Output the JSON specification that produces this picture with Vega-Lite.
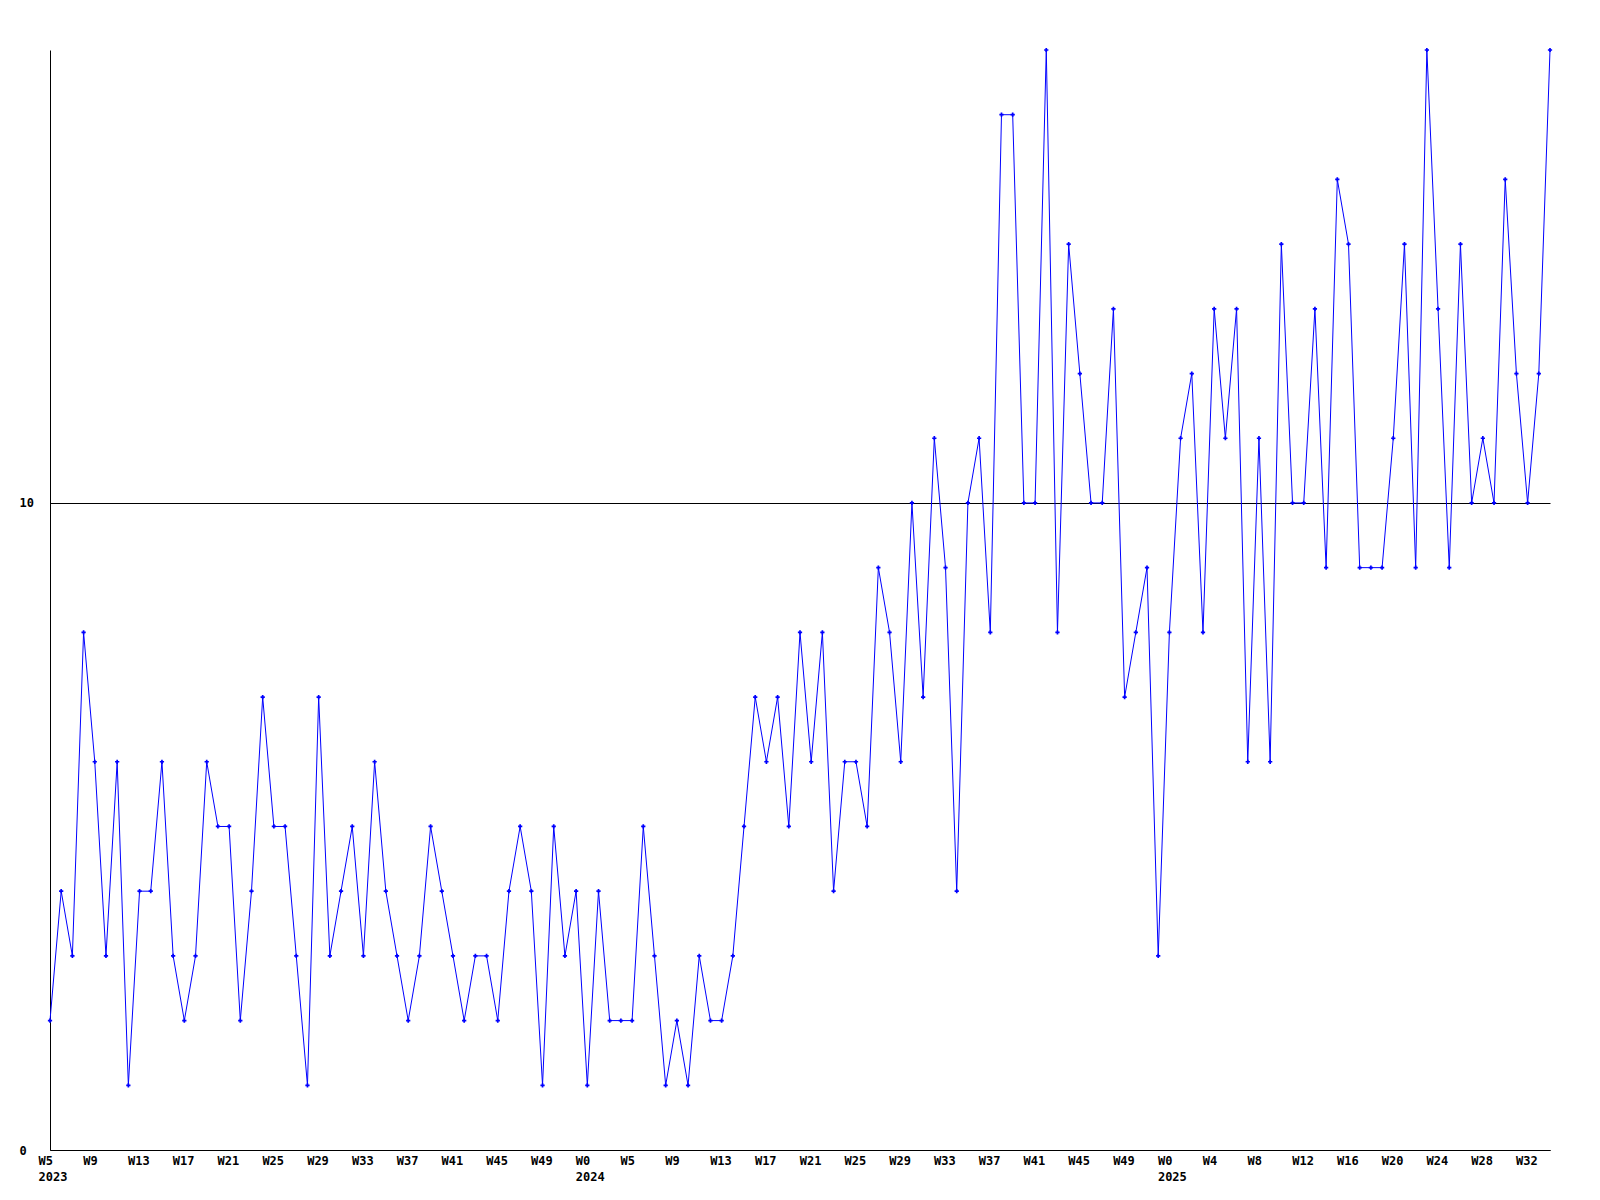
{
  "$schema": "https://vega.github.io/schema/vega-lite/v6.json",
  "width": 1500,
  "height": 1100,
  "autosize": "none",
  "padding": {"left": 50, "top": 50, "right": 50, "bottom": 50},
  "background": "white",
  "config": {"view": {"stroke": null}},
  "data": {"values": [
    {"week":0,"count":2},{"week":1,"count":4},{"week":2,"count":3},{"week":3,"count":8},{"week":4,"count":6},{"week":5,"count":3},{"week":6,"count":6},{"week":7,"count":1},{"week":8,"count":4},{"week":9,"count":4},
    {"week":10,"count":6},{"week":11,"count":3},{"week":12,"count":2},{"week":13,"count":3},{"week":14,"count":6},{"week":15,"count":5},{"week":16,"count":5},{"week":17,"count":2},{"week":18,"count":4},{"week":19,"count":7},
    {"week":20,"count":5},{"week":21,"count":5},{"week":22,"count":3},{"week":23,"count":1},{"week":24,"count":7},{"week":25,"count":3},{"week":26,"count":4},{"week":27,"count":5},{"week":28,"count":3},{"week":29,"count":6},
    {"week":30,"count":4},{"week":31,"count":3},{"week":32,"count":2},{"week":33,"count":3},{"week":34,"count":5},{"week":35,"count":4},{"week":36,"count":3},{"week":37,"count":2},{"week":38,"count":3},{"week":39,"count":3},
    {"week":40,"count":2},{"week":41,"count":4},{"week":42,"count":5},{"week":43,"count":4},{"week":44,"count":1},{"week":45,"count":5},{"week":46,"count":3},{"week":47,"count":4},{"week":48,"count":1},{"week":49,"count":4},
    {"week":50,"count":2},{"week":51,"count":2},{"week":52,"count":2},{"week":53,"count":5},{"week":54,"count":3},{"week":55,"count":1},{"week":56,"count":2},{"week":57,"count":1},{"week":58,"count":3},{"week":59,"count":2},
    {"week":60,"count":2},{"week":61,"count":3},{"week":62,"count":5},{"week":63,"count":7},{"week":64,"count":6},{"week":65,"count":7},{"week":66,"count":5},{"week":67,"count":8},{"week":68,"count":6},{"week":69,"count":8},
    {"week":70,"count":4},{"week":71,"count":6},{"week":72,"count":6},{"week":73,"count":5},{"week":74,"count":9},{"week":75,"count":8},{"week":76,"count":6},{"week":77,"count":10},{"week":78,"count":7},{"week":79,"count":11},
    {"week":80,"count":9},{"week":81,"count":4},{"week":82,"count":10},{"week":83,"count":11},{"week":84,"count":8},{"week":85,"count":16},{"week":86,"count":16},{"week":87,"count":10},{"week":88,"count":10},{"week":89,"count":17},
    {"week":90,"count":8},{"week":91,"count":14},{"week":92,"count":12},{"week":93,"count":10},{"week":94,"count":10},{"week":95,"count":13},{"week":96,"count":7},{"week":97,"count":8},{"week":98,"count":9},{"week":99,"count":3},
    {"week":100,"count":8},{"week":101,"count":11},{"week":102,"count":12},{"week":103,"count":8},{"week":104,"count":13},{"week":105,"count":11},{"week":106,"count":13},{"week":107,"count":6},{"week":108,"count":11},{"week":109,"count":6},
    {"week":110,"count":14},{"week":111,"count":10},{"week":112,"count":10},{"week":113,"count":13},{"week":114,"count":9},{"week":115,"count":15},{"week":116,"count":14},{"week":117,"count":9},{"week":118,"count":9},{"week":119,"count":9},
    {"week":120,"count":11},{"week":121,"count":14},{"week":122,"count":9},{"week":123,"count":17},{"week":124,"count":13},{"week":125,"count":9},{"week":126,"count":14},{"week":127,"count":10},{"week":128,"count":11},{"week":129,"count":10},
    {"week":130,"count":15},{"week":131,"count":12},{"week":132,"count":10},{"week":133,"count":12},{"week":134,"count":17}
  ]},
  "layer": [
    {
      "mark": {"type": "line", "color": "#0000ff", "strokeWidth": 1},
      "encoding": {
        "x": {
          "field": "week", "type": "quantitative",
          "scale": {"domain": [0, 134], "nice": false, "zero": false},
          "axis": {
            "title": null,
            "values": [0,4,8,12,16,20,24,28,32,36,40,44,48,52,56,60,64,68,72,76,80,84,88,92,96,100,104,108,112,116,120,124,128,132],
            "labelExpr": "datum.value == 0 ? ['W5','2023'] : datum.value == 48 ? ['W0','2024'] : datum.value == 100 ? ['W0','2025'] : 'W' + (datum.value < 48 ? datum.value + 5 : datum.value < 100 ? datum.value - 47 : datum.value - 100)",
            "grid": false,
            "ticks": false,
            "tickSize": 0,
            "domainColor": "#000000",
            "domainWidth": 1,
            "labelAlign": "left",
            "labelOffset": -12,
            "labelBaseline": "top",
            "labelPadding": 5,
            "labelLineHeight": 16,
            "labelFont": "DejaVu Sans Mono",
            "labelFontWeight": "bold",
            "labelFontSize": 12,
            "labelColor": "#000000",
            "labelOverlap": false,
            "labelFlush": false,
            "labelBound": false
          }
        },
        "y": {
          "field": "count", "type": "quantitative",
          "scale": {"domain": [0, 17], "nice": false, "zero": true},
          "axis": {
            "title": null,
            "values": [0, 10],
            "format": "d",
            "grid": true,
            "gridColor": "#000000",
            "gridOpacity": 1,
            "gridWidth": 1,
            "ticks": false,
            "tickSize": 0,
            "domainColor": "#000000",
            "domainWidth": 1,
            "labelAlign": "left",
            "labelBaseline": "middle",
            "labelPadding": 31,
            "labelFont": "DejaVu Sans Mono",
            "labelFontWeight": "bold",
            "labelFontSize": 12,
            "labelColor": "#000000",
            "labelOverlap": false,
            "labelFlush": false
          }
        }
      }
    },
    {
      "mark": {"type": "point", "shape": "cross", "filled": true, "color": "#0000ff", "size": 18, "opacity": 1},
      "encoding": {
        "x": {"field": "week", "type": "quantitative"},
        "y": {"field": "count", "type": "quantitative"}
      }
    }
  ]
}
